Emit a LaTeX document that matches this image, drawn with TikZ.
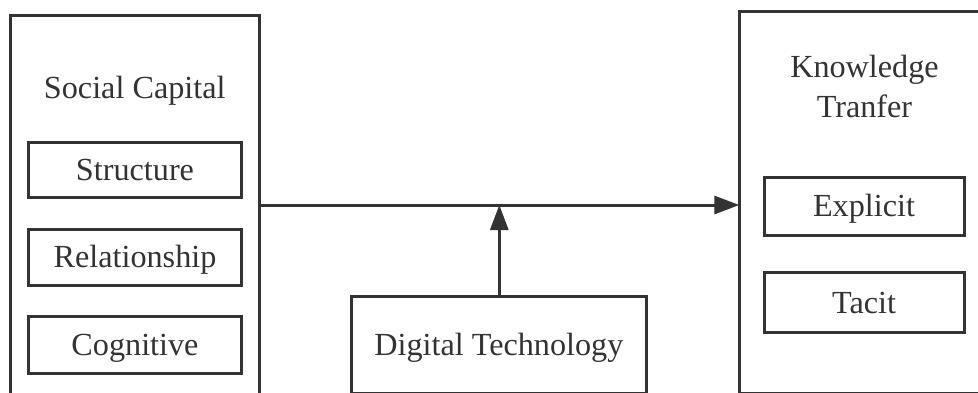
\documentclass[tikz,border=0pt]{standalone}
\usepackage{fontspec}
\setmainfont{Liberation Serif}
\usetikzlibrary{arrows.meta}
\definecolor{ink}{HTML}{333333}
\tikzset{
  frame/.style={draw=ink, line width=3pt, fill=white},
  label/.style={text=ink, font=\fontsize{32.2}{40}\selectfont, inner sep=0pt},
  capc/.style={text height=21.3pt, text depth=0pt},
  conn/.style={draw=ink, line width=3pt, -{Triangle[length=25pt,width=18pt]}}
}
\begin{document}
\begin{tikzpicture}[x=1pt,y=-1pt]
\useasboundingbox (0,0) rectangle (978,392);
\clip (0,0) rectangle (978,392);
\fill[white] (0,0) rectangle (978,392);
% outer boxes
\path[frame] (10.5,15.5) rectangle (259,396);
\node[inner sep=0pt, minimum size=0pt] (scL) at (259,205) {};
\path[frame] (739.3,11.7) rectangle (990,393.3);
\node[inner sep=0pt, minimum size=0pt] (ktL) at (739.3,205) {};
% titles
\node[label, anchor=base] (sc) at (134.75,98) {Social Capital};
\node[label, anchor=base] (kt1) at (864.5,77) {Knowledge};
\node[label, anchor=base] (kt2) at (864.5,117) {Tranfer};
% sub-boxes
\node[frame, label, capc, minimum width=213pt, minimum height=55.5pt] (str) at (135,169.75) {Structure};
\node[frame, label, capc, minimum width=213pt, minimum height=56.5pt] (rel) at (135,257.25) {Relationship};
\node[frame, label, capc, minimum width=213pt, minimum height=56.6pt] (cog) at (135,345) {Cognitive};
\node[frame, label, capc, minimum width=200pt, minimum height=58.3pt] (exp) at (864,206.3) {Explicit};
\node[frame, label, capc, minimum width=200pt, minimum height=60pt] (tac) at (864,302.8) {Tacit};
\node[frame, label, capc, minimum width=294.3pt, minimum height=97.3pt] (dig) at (498.85,344.65) {Digital Technology};
% connectors
\draw[conn] (scL.center) -- (ktL.center);
\coordinate (mid) at (499.3,205);
\draw[conn] (dig.north -| mid) -- (mid);
\end{tikzpicture}
\end{document}
